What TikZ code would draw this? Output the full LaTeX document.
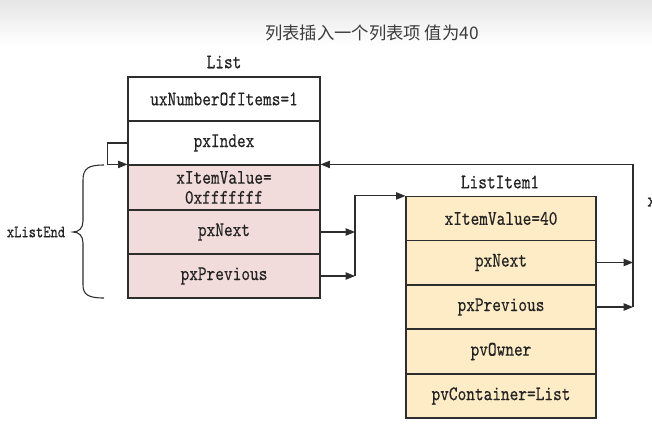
\documentclass[tikz,border=0pt]{standalone}
\usepackage{fontspec}
\newfontfamily\lblfont[Extension=.otf,FakeStretch=0.8,FakeBold=0.4]{lmmono10-regular}
\newfontfamily\cjkfont{Noto Sans CJK SC}
\usetikzlibrary{arrows.meta}
\definecolor{pinkfill}{RGB}{242,220,219}
\definecolor{yellowfill}{RGB}{253,236,198}
\definecolor{linecol}{RGB}{45,45,45}
\definecolor{txtcol}{RGB}{35,35,35}
\definecolor{titlecol}{RGB}{60,60,60}
\tikzset{
  lbl/.style={font=\lblfont\fontsize{15.5}{15}\selectfont, text=txtcol},
  smalllbl/.style={font=\lblfont\fontsize{13}{15}\selectfont, text=txtcol},
  rowbox/.style={lbl, draw=linecol, line width=0.85pt, minimum width=144pt, minimum height=33pt, inner sep=0pt, align=center},
  endbox/.style={rowbox, fill=pinkfill},
  itembox/.style={rowbox, minimum width=142.5pt, fill=yellowfill},
  link/.style={draw=linecol, line width=0.8pt},
  tip/.style={link, -{Triangle[length=7pt,width=5.5pt]}},
  titlestyle/.style={font=\cjkfont\fontsize{13}{15}\selectfont, text=titlecol},
}
\begin{document}
\begin{tikzpicture}[x=0.75pt,y=-0.75pt]
\useasboundingbox (0,0) rectangle (652,425);
\fill[white] (0,0) rectangle (652,425);
\shade[top color=black!10, bottom color=white] (0,0) rectangle (652,45);

\node[titlestyle] (title) at (372,33) {列表插入一个列表项 值为40};

% List
\node[lbl] (listlbl) at (224,62) {List};
\node[rowbox, fill=white] (num)  at (224,99)   {uxNumberOfItems=1};
\node[rowbox, fill=white] (idx)  at (224,143)  {pxIndex};
\node[endbox, minimum height=33.75pt] (ival) at (224,187.5) {xItemValue=\\0xfffffff};
\node[endbox] (next) at (224,232)  {pxNext};
\node[endbox] (prev) at (224,276)  {pxPrevious};

% ListItem1
\node[lbl] (itemlbl) at (500,182) {ListItem1};
\node[itembox] (iival) at (501,218.5) {xItemValue=40};
\node[itembox] (inext) at (501,262.5) {pxNext};
\node[itembox] (iprev) at (501,307)   {pxPrevious};
\node[itembox] (iown)  at (501,351.5) {pvOwner};
\node[itembox] (icont) at (501,396)   {pvContainer=List};

% brace and label
\node[smalllbl] (endlbl) at (36,232) {xListEnd};
\draw[link] (104,165) .. controls (89,165) and (83,168) .. (83,180) -- (83,221)
  .. controls (83,228) and (79,232) .. (73,232)
  .. controls (79,232) and (83,236) .. (83,243) -- (83,285)
  .. controls (83,295) and (89,298) .. (104,298);

% pxIndex -> xListEnd
\draw[tip] (idx.west) -- ++(-20,0) |- (ival.north west);

% List pxNext / pxPrevious -> ListItem1
\coordinate (ja) at (355,232);
\coordinate (jb) at (355,276);
\draw[tip] (next.east) -- (ja);
\draw[tip] (prev.east) -- (jb);
\draw[tip] (jb) -- (ja) |- (iival.north west);

% ListItem1 pxNext / pxPrevious -> xListEnd
\coordinate (ka) at (633,262.5);
\coordinate (kb) at (633,307);
\draw[tip] (inext.east) -- (ka);
\draw[tip] (iprev.east) -- (kb);
\draw[tip] (kb) -- (ka) |- (ival.north east);

% clipped text at the right edge
\node[lbl, anchor=west, inner sep=0pt] (edge) at (647,202) {x};
\end{tikzpicture}
\end{document}
